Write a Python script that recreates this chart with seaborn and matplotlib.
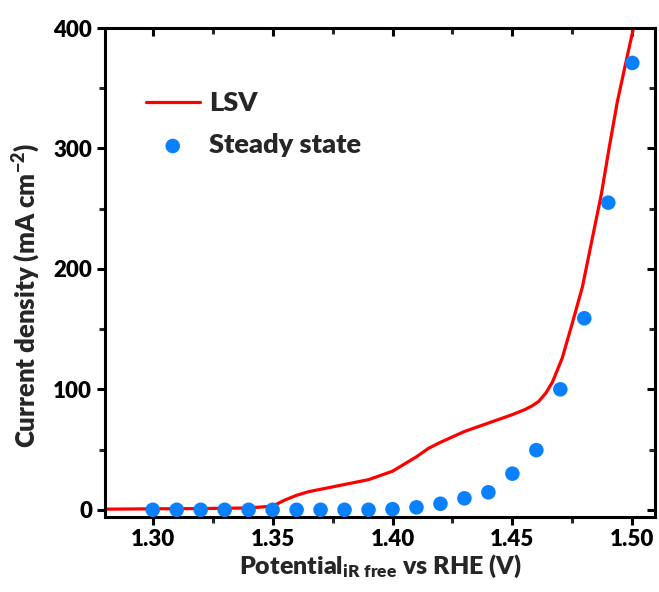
import numpy as np
import pandas as pd
import matplotlib
matplotlib.use("Agg")
import matplotlib.pyplot as plt
import seaborn as sns
from matplotlib.ticker import MultipleLocator

# LSV curve
lsv_v = [1.28, 1.30, 1.32, 1.34, 1.35, 1.355, 1.36, 1.365, 1.37, 1.38, 1.39, 1.40, 1.405,
         1.41, 1.415, 1.42, 1.43, 1.44, 1.45, 1.455, 1.458, 1.461, 1.464, 1.4667, 1.4708,
         1.475, 1.4792, 1.4833, 1.4871, 1.4904, 1.4937, 1.4975, 1.5005]
lsv_j = [0.5, 0.8, 1.0, 1.5, 3.0, 8.0, 12.0, 15.0, 17.0, 21.0, 25.0, 32.0, 38.0,
         44.0, 51.0, 56.0, 65.0, 72.0, 79.0, 83.0, 86.0, 90.0, 97.0, 106.0, 126.0,
         155.0, 185.0, 225.0, 262.0, 301.0, 338.0, 373.0, 400.0]

# Steady state points
ss_v = [1.30, 1.31, 1.32, 1.33, 1.34, 1.35, 1.36, 1.37, 1.38, 1.39, 1.40,
        1.41, 1.42, 1.43, 1.44, 1.45, 1.46, 1.47, 1.48, 1.49, 1.50]
ss_j = [0.0, 0.0, 0.0, 0.0, 0.0, 0.0, 0.0, 0.0, 0.0, 0.0, 0.5,
        2.0, 5.0, 9.5, 14.5, 30.0, 49.5, 100.0, 159.0, 255.0, 371.0]

x_ticks = [1.30, 1.35, 1.40, 1.45, 1.50]
y_ticks = [0, 100, 200, 300, 400]

sns.set_theme(style="ticks")
W = 'heavy'
plt.rcParams['font.family'] = ['Lato', 'DejaVu Sans']
plt.rcParams['font.weight'] = W
plt.rcParams['mathtext.fontset'] = 'custom'
plt.rcParams['mathtext.rm'] = 'Lato:heavy'
plt.rcParams['mathtext.bf'] = 'Lato:heavy'
plt.rcParams['mathtext.it'] = 'Lato:heavy'
plt.rcParams['mathtext.default'] = 'rm'

fig = plt.figure(figsize=(6.59, 5.92), dpi=100)
ax = fig.add_axes([0.159, 0.1267, 0.835, 0.826])

lsv_df = pd.DataFrame({"V": lsv_v, "J": lsv_j})
ss_df = pd.DataFrame({"V": ss_v, "J": ss_j})

sns.lineplot(data=lsv_df, x="V", y="J", ax=ax, color="#FF0000", linewidth=2.3,
             label="LSV", sort=False)
sns.scatterplot(data=ss_df, x="V", y="J", ax=ax, color="#0A80FF", s=110,
                edgecolor="none", label="Steady state", zorder=3)

ax.set_xlim(1.28, 1.5095)
ax.set_ylim(-6, 400)
ax.set_xticks(x_ticks)
ax.set_xticklabels([f"{v:.2f}" for v in x_ticks])
ax.set_yticks(y_ticks)
ax.set_yticklabels([str(v) for v in y_ticks])
ax.xaxis.set_minor_locator(MultipleLocator(0.025))
ax.yaxis.set_minor_locator(MultipleLocator(50))

for s in ax.spines.values():
    s.set_linewidth(2.2)
    s.set_color("black")

ax.tick_params(axis='both', which='major', direction='out', length=6, width=2.2,
               labelsize=16, pad=3, colors='black')
ax.tick_params(axis='both', which='minor', direction='out', length=4, width=2.2)
ax.tick_params(top=True, right=True, which='both')
for t in ax.xaxis.get_major_ticks() + ax.xaxis.get_minor_ticks():
    t.tick2line.set_marker(3)
for t in ax.yaxis.get_major_ticks() + ax.yaxis.get_minor_ticks():
    t.tick2line.set_marker(0)
for lab in ax.get_xticklabels() + ax.get_yticklabels():
    lab.set_fontweight(W)

ax.set_xlabel("Potential$_{\\mathregular{iR\\ free}}$ vs RHE (V)", fontsize=18,
              fontweight=W, labelpad=2)
ax.set_ylabel("Current density (mA cm$^{\\mathregular{-2}}$)", fontsize=18.5,
              fontweight=W)
ax.yaxis.set_label_coords(-0.113, 0.454)

leg = ax.legend(loc='upper left', bbox_to_anchor=(0.03, 0.92), frameon=False,
                prop={'size': 19.5, 'weight': W}, handlelength=2.0,
                handletextpad=0.35, labelspacing=0.65, markerscale=1.0)

fig.savefig("out.png", dpi=100)
